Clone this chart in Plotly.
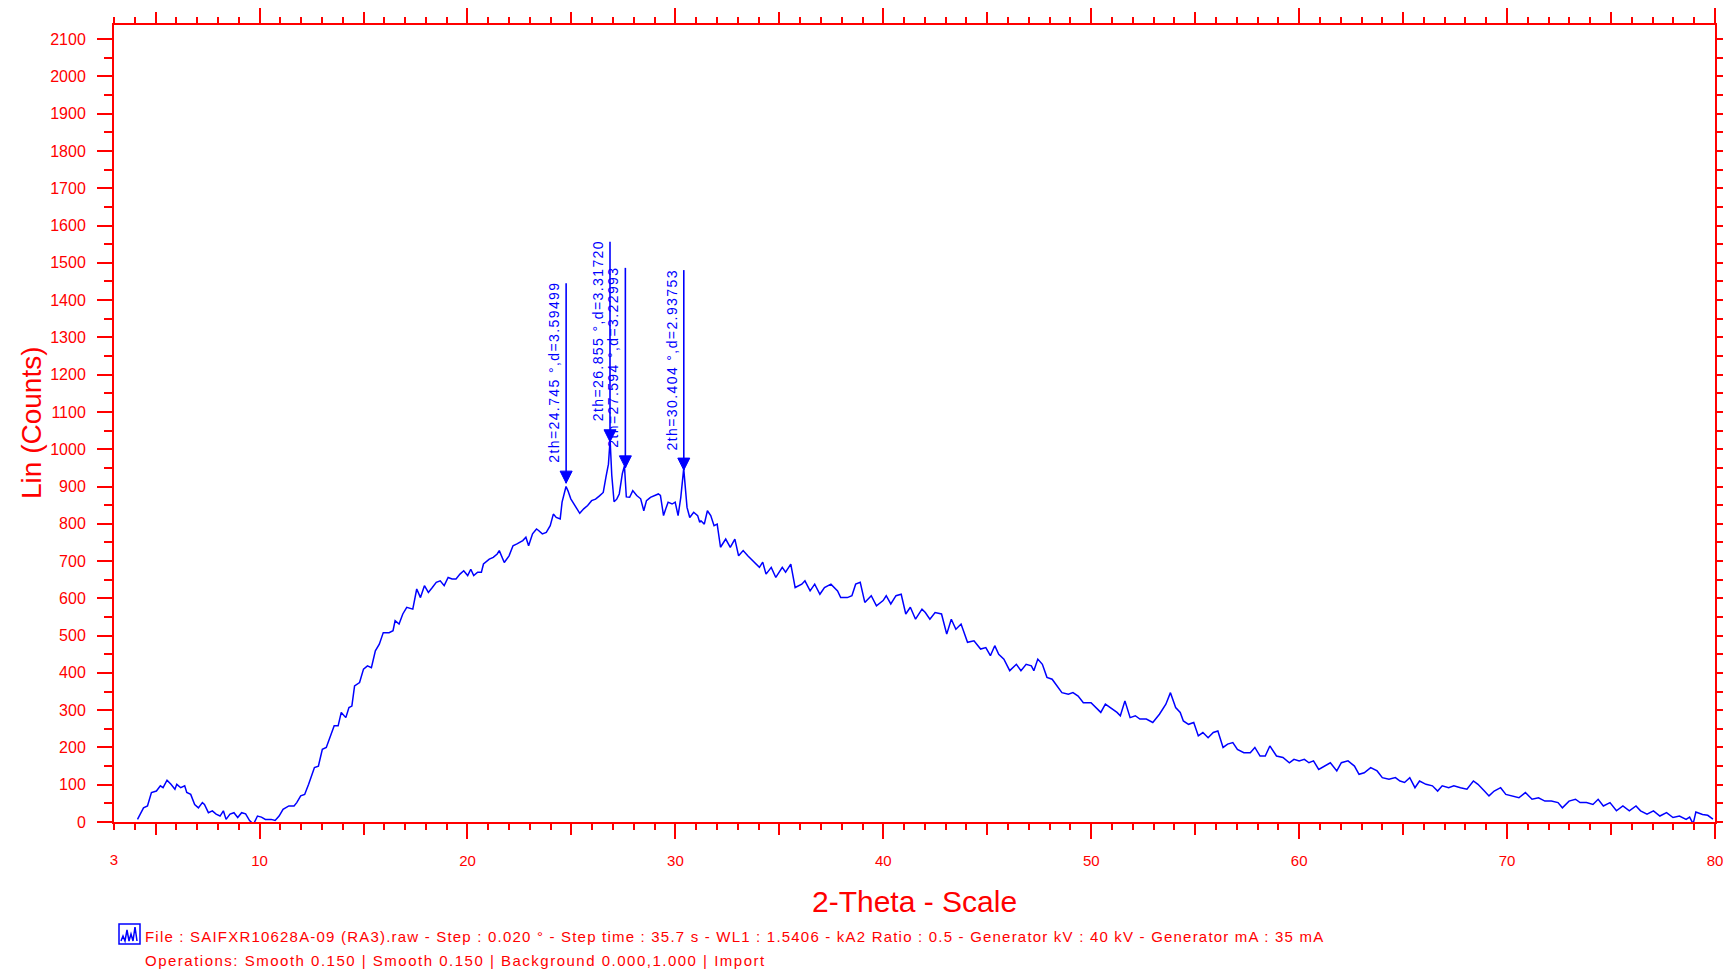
import plotly.graph_objects as go

# ---------------- data ----------------
two_theta = [
    4.13, 4.42, 4.61, 4.80, 5.04, 5.23, 5.36, 5.55, 5.74, 5.93, 6.02, 6.21, 6.40, 6.50, 6.69, 6.88,
    7.06, 7.25, 7.35, 7.54, 7.73, 7.91, 8.10, 8.26, 8.39, 8.58, 8.77, 8.95, 9.14, 9.33, 9.52, 9.71,
    9.90, 10.09, 10.28, 10.56, 10.75, 10.94, 11.13, 11.41, 11.66, 11.79, 11.98, 12.17, 12.36, 12.55,
    12.64, 12.83, 13.02, 13.21, 13.40, 13.59, 13.78, 13.93, 14.15, 14.30, 14.44, 14.57, 14.81, 15.00,
    15.19, 15.38, 15.57, 15.76, 15.95, 16.23, 16.42, 16.52, 16.71, 16.89, 17.08, 17.37, 17.56, 17.74,
    17.93, 18.12, 18.31, 18.50, 18.69, 18.88, 19.07, 19.26, 19.45, 19.64, 19.82, 20.01, 20.16, 20.30,
    20.49, 20.67, 20.77, 21.05, 21.24, 21.43, 21.53, 21.77, 22.00, 22.19, 22.38, 22.66, 22.81, 22.94,
    23.13, 23.32, 23.42, 23.60, 23.79, 23.98, 24.13, 24.27, 24.46, 24.55, 24.74, 24.83, 24.97, 25.21,
    25.40, 25.59, 25.78, 25.97, 26.16, 26.35, 26.53, 26.66, 26.78, 26.86, 26.94, 27.05, 27.18, 27.30,
    27.45, 27.55, 27.64, 27.80, 27.95, 28.14, 28.33, 28.48, 28.61, 28.80, 28.99, 29.18, 29.28, 29.43,
    29.56, 29.65, 29.84, 29.99, 30.13, 30.26, 30.40, 30.50, 30.56, 30.69, 30.88, 31.07, 31.17,
    31.23, 31.39, 31.54, 31.70, 31.86, 32.01, 32.17, 32.42, 32.64, 32.86, 33.04, 33.26, 33.48, 33.73,
    34.04, 34.20, 34.36, 34.61, 34.83, 35.14, 35.30, 35.55, 35.76, 36.08, 36.23, 36.48, 36.70, 36.95,
    37.17, 37.48, 37.80, 37.95, 38.27, 38.49, 38.67, 38.89, 39.11, 39.42, 39.67, 39.99, 40.14, 40.36,
    40.61, 40.86, 41.08, 41.30, 41.55, 41.86, 42.02, 42.24, 42.49, 42.80, 43.05, 43.27, 43.49, 43.74,
    44.05, 44.36, 44.68, 44.93, 45.15, 45.36, 45.55, 45.80, 46.08, 46.40, 46.62, 46.87, 47.12, 47.24,
    47.43, 47.65, 47.87, 48.12, 48.37, 48.59, 48.90, 49.12, 49.37, 49.62, 49.99, 50.24, 50.46, 50.68,
    50.93, 51.24, 51.40, 51.62, 51.87, 52.12, 52.34, 52.65, 52.96, 53.28, 53.59, 53.81, 54.06, 54.28,
    54.43, 54.68, 54.93, 55.15, 55.37, 55.62, 55.87, 56.09, 56.34, 56.56, 56.81, 57.03, 57.34, 57.65,
    57.87, 58.12, 58.37, 58.59, 58.91, 59.22, 59.53, 59.75, 60.00, 60.25, 60.47, 60.69, 60.94, 61.19,
    61.50, 61.81, 62.03, 62.35, 62.66, 62.88, 63.13, 63.44, 63.75, 64.00, 64.32, 64.63, 64.85, 65.07,
    65.32, 65.57, 65.79, 66.10, 66.41, 66.66, 66.88, 67.19, 67.44, 67.76, 68.07, 68.38, 68.60, 68.91,
    69.13, 69.38, 69.69, 69.94, 70.26, 70.57, 70.88, 71.20, 71.51, 71.82, 72.13, 72.45, 72.66, 72.98,
    73.29, 73.51, 73.82, 74.13, 74.38, 74.63, 74.95, 75.26, 75.57, 75.88, 76.20, 76.42, 76.73, 77.04,
    77.35, 77.67, 77.98, 78.29, 78.61, 78.78, 78.95, 79.08, 79.40, 79.65, 79.90,
]
counts = [
    7, 38, 43, 79, 83, 97, 92, 112, 101, 88, 101, 92, 97, 79, 74, 47,
    38, 52, 47, 25, 30, 21, 16, 30, 7, 21, 25, 12, 25, 22, 4, -6,
    16, 13, 7, 7, 4, 16, 34, 43, 43, 52, 70, 74, 101, 128,
    146, 150, 195, 200, 231, 258, 258, 294, 280, 307, 311, 365, 374, 410,
    419, 414, 459, 477, 508, 508, 513, 540, 531, 558, 576, 571, 625, 602,
    634, 616, 629, 643, 647, 634, 656, 652, 652, 665, 674, 661, 678, 661,
    670, 670, 692, 705, 710, 719, 728, 696, 714, 741, 746, 755, 764, 741,
    773, 786, 782, 773, 777, 795, 826, 817, 813, 858, 900, 889, 867, 844,
    828, 840, 849, 862, 866, 875, 884, 925, 960, 1025, 930, 859, 866, 880,
    935, 955, 872, 871, 889, 876, 867, 835, 862, 871, 876, 880, 876, 822,
    844, 858, 853, 858, 822, 871, 948, 890, 844, 817, 831, 822, 804,
    808, 799, 835, 822, 795, 799, 737, 759, 737, 759, 714, 728, 714, 701,
    683, 697, 665, 683, 656, 683, 670, 692, 629, 638, 647, 620, 638, 611,
    629, 638, 620, 602, 602, 607, 638, 643, 589, 607, 580, 594, 607, 585,
    607, 611, 558, 576, 544, 571, 562, 544, 562, 558, 504, 544, 517, 531,
    482, 486, 464, 468, 446, 473, 450, 437, 406, 423, 406, 423, 419, 406,
    437, 423, 388, 383, 365, 347, 343, 347, 338, 320, 320, 307, 294, 316,
    307, 294, 285, 325, 280, 285, 276, 276, 267, 289, 316, 347, 307, 294,
    271, 262, 267, 231, 240, 226, 240, 244, 200, 209, 213, 195, 186, 186,
    200, 177, 177, 204, 177, 173, 159, 168, 164, 168, 159, 164, 141, 150,
    159, 137, 159, 164, 150, 128, 132, 146, 137, 119, 115, 119, 110, 106,
    119, 92, 110, 101, 97, 83, 97, 92, 97, 92, 88, 110, 101, 83,
    70, 83, 92, 74, 70, 65, 79, 61, 65, 56, 56, 52, 38, 56,
    61, 52, 52, 47, 61, 43, 52, 30, 43, 30, 43, 30, 21, 30,
    16, 25, 12, 16, 7, 13, -5, 27, 20, 18, 8,
]

# marked peaks
peak_2theta = [24.745, 26.855, 27.594, 30.404]
peak_d = ["3.59499", "3.31720", "3.22993", "2.93753"]
peak_counts = [909, 1020, 950, 944]

x_major = [10, 20, 30, 40, 50, 60, 70, 80]
x_mid = [5, 15, 25, 35, 45, 55, 65, 75]
x_minor = [v for v in range(3, 81) if v % 5 != 0]
y_major = list(range(0, 2101, 100))
y_minor = list(range(50, 2101, 100))

footer1 = ("File : SAIFXR10628A-09 (RA3).raw - Step : 0.020 \u00b0 - Step time : 35.7 s - "
           "WL1 : 1.5406 - kA2 Ratio : 0.5 - Generator kV : 40 kV - Generator mA : 35 mA")
footer2 = "Operations: Smooth 0.150 | Smooth 0.150 | Background 0.000,1.000 | Import"

# ---------------- style / layout constants ----------------
RED = "#FF0000"
BLUE = "#0000FF"
FONT = "Liberation Sans, Arial, sans-serif"
W, H = 1723, 971
L, R, T, B = 114, 1715, 25, 822
PW, PH = R - L, B - T
X0, X1 = 3, 80
Y0, Y1 = 0, 2138
cpp = (Y1 - Y0) / PH          # counts per pixel
upp = (X1 - X0) / PW          # 2theta units per pixel


def paper_x(px):
    return (px - L) / PW


def paper_y(py):
    return (B - py) / PH


def spaced(text, px):
    return f'<span style="letter-spacing:{px}px">{text}</span>'


fig = go.Figure()
fig.add_trace(go.Scatter(x=two_theta, y=counts, mode="lines",
                         line=dict(color=BLUE, width=1.5), hoverinfo="skip",
                         showlegend=False))
# empty traces so that the overlay tick axes get drawn
for xa, ya in (("x2", "y"), ("x3", "y"), ("x", "y2")):
    fig.add_trace(go.Scatter(x=[], y=[], xaxis=xa, yaxis=ya, mode="lines",
                             showlegend=False, hoverinfo="skip"))

xtickfont = dict(family=FONT, size=15, color=RED)
ytickfont = dict(family=FONT, size=16, color=RED)
common_x = dict(range=[X0, X1], showgrid=False, zeroline=False, ticks="outside",
                tickcolor=RED, tickwidth=2, tickfont=xtickfont, mirror="ticks",
                automargin=False, fixedrange=True, ticklabeloverflow="allow")
common_y = dict(range=[Y0, Y1], showgrid=False, zeroline=False, ticks="outside",
                tickcolor=RED, tickwidth=2, tickfont=ytickfont, mirror="ticks",
                automargin=False, fixedrange=True, ticklabeloverflow="allow")

fig.update_layout(
    width=W, height=H,
    margin=dict(l=L, r=W - R, t=T, b=H - B, autoexpand=False),
    paper_bgcolor="white", plot_bgcolor="white",
    xaxis=dict(**common_x, tickvals=x_major, ticktext=[str(v) for v in x_major],
               ticklen=15, showline=True, linecolor=RED, linewidth=2,
               ticklabelstandoff=9),
    xaxis2=dict(**common_x, overlaying="x", anchor="y", side="bottom",
                tickvals=x_mid, ticklen=12, showticklabels=False, showline=False),
    xaxis3=dict(**common_x, overlaying="x", anchor="y", side="bottom",
                tickvals=x_minor, ticktext=["3" if v == 3 else "" for v in x_minor],
                ticklen=7, showline=False, ticklabelstandoff=17),
    yaxis=dict(**common_y, tickvals=y_major, ticktext=[str(v) for v in y_major],
               ticklen=15, showline=True, linecolor=RED, linewidth=2,
               ticklabelstandoff=8),
    yaxis2=dict(**common_y, overlaying="y", anchor="x", side="left",
                tickvals=y_minor, ticklen=9, showticklabels=False, showline=False),
)

# peak markers: vertical arrows with rotated labels
arrow_len = 200 * cpp
tri_h = 12 * cpp
tri_hw = 6 * upp
for xp, dval, tip in zip(peak_2theta, peak_d, peak_counts):
    fig.add_shape(type="line", xref="x", yref="y", x0=xp, x1=xp, y0=tip, y1=tip + arrow_len,
                  line=dict(color=BLUE, width=1.6))
    fig.add_shape(type="path", xref="x", yref="y",
                  path=f"M {xp - tri_hw} {tip + tri_h} L {xp + tri_hw} {tip + tri_h} L {xp} {tip} Z",
                  fillcolor=BLUE, line=dict(color=BLUE, width=1))
    fig.add_annotation(x=xp, y=tip, xref="x", yref="y", showarrow=False,
                       text=spaced(f"2th={xp:.3f} \u00b0,d={dval}", 1.4), textangle=-90,
                       xanchor="center", yanchor="bottom", xshift=-12, yshift=18,
                       font=dict(family=FONT, size=14, color=BLUE))

# axis titles
fig.add_annotation(x=0.5, y=paper_y(902), xref="paper", yref="paper", showarrow=False,
                   text="2-Theta - Scale", xanchor="center", yanchor="middle",
                   font=dict(family=FONT, size=30, color=RED))
fig.add_annotation(x=paper_x(31), y=paper_y(423), xref="paper", yref="paper", showarrow=False,
                   text="Lin (Counts)", textangle=-90, xanchor="center", yanchor="middle",
                   font=dict(family=FONT, size=28, color=RED))

# footer
fig.add_annotation(x=paper_x(143), y=paper_y(937), xref="paper", yref="paper", showarrow=False,
                   text=spaced(footer1, 1.2), xanchor="left", yanchor="middle",
                   font=dict(family=FONT, size=15, color=RED))
fig.add_annotation(x=paper_x(143), y=paper_y(961), xref="paper", yref="paper", showarrow=False,
                   text=spaced(footer2, 1.5), xanchor="left", yanchor="middle",
                   font=dict(family=FONT, size=15, color=RED))
# small scan icon
fig.add_shape(type="rect", xref="paper", yref="paper",
              x0=paper_x(119), x1=paper_x(140), y0=paper_y(944), y1=paper_y(924),
              line=dict(color=BLUE, width=1.5), fillcolor="white")
icon_pts = [(121, 941), (123, 936), (125, 941), (127, 930), (129, 941), (131, 934),
            (133, 941), (135, 927), (137, 941)]
fig.add_shape(type="path", xref="paper", yref="paper",
              path="M " + " L ".join(f"{paper_x(a)} {paper_y(b)}" for a, b in icon_pts),
              line=dict(color=BLUE, width=1.5))

fig.write_html("out.html")
